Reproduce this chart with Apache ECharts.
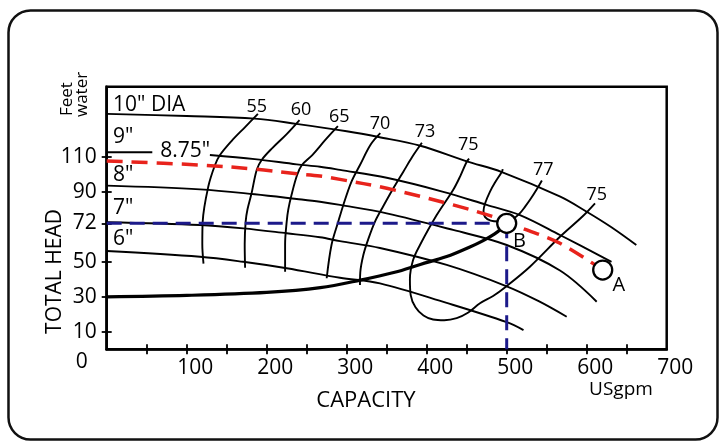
<!DOCTYPE html>
<html><head><meta charset="utf-8">
<script src="https://cdn.jsdelivr.net/npm/echarts@6/dist/echarts.min.js"></script>
<style>html,body{margin:0;padding:0;background:#fff}#c{width:723px;height:446px}</style>
</head><body><div id="c"></div>
<script>
// ---- axes ----
const xTicks = [50,100,150,200,250,300,350,400,450,500,550,600,650];
const xLabels = [100,200,300,400,500,600,700];
const yTicks = [10,30,50,72,90,110];
const yLabels = [10,30,50,72,90,110];
const zeroLabel = [0];

// ---- impeller curves (USgpm, feet) ----
const dia10 = [[0,134.5],[100,133.3],[185,131.8],[237,128.8],[300,124.6],[340,121.3],[392,116.3],[450,107.4],[494,101.3],[567,87.2],[600,78.6],[630,70],[662,59.6]];
const dia9a = [[0,112.6],[57,112.6]];
const dia9b = [[129,111],[185,108.7],[237.5,105.7],[266.6,104.3],[291.6,102.5],[350,98],[420.7,90],[475,82.5],[516.6,76.7],[566.6,65.3],[631,50]];
const dia8 = [[0,93.5],[116.6,91.4],[185,88.6],[237.5,85.9],[266.6,84.3],[291.6,82.5],[350,77.7],[433,68.2],[500,59.6],[566.6,45],[612.5,27.2]];
const dia7 = [[0,72.6],[116.6,71],[170.7,69.1],[225,66.3],[266.6,64],[291.6,61.8],[341.6,57.9],[425,48.2],[500,36],[540,27.5],[575,18.6]];
const dia6 = [[0,56.2],[116.6,52.9],[170.7,50],[225,46.3],[291.6,40.9],[341.6,37.7],[425,26.5],[500,15.5],[521,11]];

// ---- efficiency contours ----
const eff55 = [[189,134.5],[173,127],[156,119],[141.6,111],[135.4,105.3],[127,93],[120,73],[119.5,60],[121,49]];
const eff60 = [[241,131],[225,123],[207,115],[193.7,108.2],[187.5,102.5],[181,89],[176,80],[173.7,73],[172.5,60],[173,46.6]];
const eff65 = [[289,127.5],[273,119.5],[257,111],[244,105.3],[238,99.6],[231,88.2],[227,80],[225,73],[223,60],[223,44.3]];
const eff70 = [[342,123.5],[330,117],[316.6,105.3],[306,95.8],[295.8,82.5],[289.5,73],[281,59.6],[275,40.6]];
const eff73 = [[394,118],[382,110],[370.8,101.5],[358.3,92],[346,82],[335.4,73],[327,63],[320.8,53.9],[317,44],[316.6,36.7]];
const eff75 = [[453,109],[450,107.2],[442,99],[433,91],[412.5,76.7],[391.6,59.6],[383,51],[379,40],[380,31],[386,24],[396,19.3],[408,17],[422,16.6],[437.5,17.8],[452,21],[466.6,26.3],[483,30.5],[499,35.8],[529,47.2],[566.6,64.3],[595,76],[610.4,83.4]];
const eff77 = [[495,103],[494,101.5],[485,95],[479,90],[473.5,84],[471,79],[473,75.5],[480,73.5],[490,73],[500,73],[508,74.5],[516,77.5],[523,81.5],[530,86],[537,91],[544,96.5]];

// ---- system curve, operating curve, points ----
const systemCurve = [[0,30],[100,30.8],[200,32.5],[267,35.2],[317,39.5],[360,44],[392,48.5],[425,53],[454,58.5],[470,62],[485,66],[494,69.2],[500,72]];
const trimmed875 = [[0,107.6],[116.6,105.3],[185,103],[237.5,100.3],[266.6,99],[291.6,97.1],[350,92],[433,82.5],[483,75.8],[500,72.5],[525,68.2],[566.6,60.6],[620,45.3]];
const dutyH = [[0,72],[500,72]];
const dutyV = [[500,72],[500,0]];
const pointNames = ['B','A'];
const pointValues = [[500,72],[620,45.3]];
const pointLabelPos = [[516,62],[640,36.7]];

// ---- curve labels ----
const diaLabels = ['10" DIA','9"','8"','7"','6"'];
const diaLabelPos = [[8,139.7],[8,121.1],[8,99.6],[8,80.6],[8,63]];
const trimLabel = ['8.75"'];
const trimLabelPos = [[98,113.3]];
const effLabels = ['55','60','65','70','73','75','77','75'];
const effLabelPos = [[187.5,138.6],[243,136.7],[290.8,132.9],[341.6,129.1],[398,124.3],[452,116.7],[545.8,102.5],[612.5,88]];

const F = '"Open Sans", "Noto Sans", sans-serif';
const chart = echarts.init(document.getElementById('c'), null, {renderer:'canvas'});

function blk(data, w, z) {
  return {type:'line', data, showSymbol:false, symbol:'none', smooth:0.35, silent:true,
    lineStyle:{color:'#000', width:w||1.9}, z:z||2, animation:false};
}
function textSeries(texts, pos, size, align) {
  return {type:'custom', silent:true, z:8, animation:false, clip:false,
    data: pos.map(p=>[p[0], p[1]]),
    encode:{x:0, y:1},
    renderItem:(params, api)=>{
      const c = api.coord([api.value(0), api.value(1)]);
      return {type:'text', x:c[0], y:c[1],
        style:{text:texts[params.dataIndex], font:size+'px '+F, fill:'#000',
          align:align||'center', verticalAlign:'middle'}};
    }};
}

const series = [
  blk(dia10), blk(dia9a), blk(dia9b), blk(dia8), blk(dia7), blk(dia6),
  blk(eff55), blk(eff60), blk(eff65), blk(eff70), blk(eff73), blk(eff75), blk(eff77),
  blk(systemCurve, 3.2, 3),
  {type:'line', data:trimmed875, showSymbol:false, symbol:'none', smooth:0.35, silent:true, z:4, animation:false,
    lineStyle:{color:'#e8231c', width:3.5, type:[16,9]}},
  {type:'line', data:dutyH, showSymbol:false, symbol:'none', silent:true, z:4, animation:false,
    lineStyle:{color:'#1c1a8a', width:3, type:[15,8]}},
  {type:'line', data:dutyV, showSymbol:false, symbol:'none', silent:true, z:4, animation:false,
    lineStyle:{color:'#1c1a8a', width:3, type:[15,8]}},
  {type:'scatter', data:pointValues, symbol:'circle', symbolSize:19, silent:true, z:6, animation:false,
    itemStyle:{color:'#fff', borderColor:'#000', borderWidth:2.3, opacity:1}},
  textSeries(pointNames, pointLabelPos, 20),
  textSeries(diaLabels, diaLabelPos, 21, 'left'),
  textSeries(trimLabel, trimLabelPos, 21),
  textSeries(effLabels, effLabelPos, 18)
];

const tickStyle = {color:'#000', width:1.8};
chart.setOption({
  animation:false,
  grid:{left:106.7, right:56.3, top:86.8, bottom:96.7, show:true, borderColor:'#000', borderWidth:2.5, backgroundColor:'transparent'},
  xAxis:[
    {type:'value', min:0, max:700, position:'bottom',
      axisLine:{show:true, onZero:false, lineStyle:{color:'#000', width:2.5}},
      axisTick:{show:true, customValues:xTicks, length:5, lineStyle:tickStyle},
      axisLabel:{customValues:xLabels, margin:8, padding:[0,0,0,17], fontSize:21, fontFamily:F, color:'#000'},
      splitLine:{show:false}},
    {type:'value', min:0, max:700, position:'bottom',
      axisLine:{show:false, onZero:false},
      axisTick:{show:true, inside:true, customValues:xTicks, length:5, lineStyle:tickStyle},
      axisLabel:{show:true, customValues:zeroLabel, margin:2, padding:[0,50,0,0], fontSize:21, fontFamily:F, color:'#000'},
      splitLine:{show:false}}
  ],
  yAxis:[
    {type:'value', min:0, max:150, position:'left',
      axisLine:{show:true, onZero:false, lineStyle:{color:'#000', width:2.5}},
      axisTick:{show:true, customValues:yTicks, length:5, lineStyle:tickStyle},
      axisLabel:{customValues:yLabels, margin:10, fontSize:21, fontFamily:F, color:'#000'},
      splitLine:{show:false}},
    {type:'value', min:0, max:150, position:'left',
      axisLine:{show:false, onZero:false},
      axisTick:{show:true, inside:true, customValues:yTicks, length:5, lineStyle:tickStyle},
      axisLabel:{show:false}, splitLine:{show:false}}
  ],
  graphic:[
    {type:'rect', shape:{x:8.5, y:10.5, width:709, height:429, r:22}, style:{fill:'none', stroke:'#111', lineWidth:2.5}, z:-1},
    {type:'text', x:55, y:271.5, rotation:Math.PI/2, style:{text:'TOTAL HEAD', font:'21px '+F, fill:'#000', align:'center', verticalAlign:'middle'}},
    {type:'text', x:66.7, y:116, rotation:Math.PI/2, style:{text:'Feet', font:'17px '+F, fill:'#000', align:'left', verticalAlign:'middle'}},
    {type:'text', x:82.5, y:117, rotation:Math.PI/2, style:{text:'water', font:'17px '+F, fill:'#000', align:'left', verticalAlign:'middle'}},
    {type:'text', x:366, y:400.5, style:{text:'CAPACITY', font:'22px '+F, fill:'#000', align:'center', verticalAlign:'middle'}},
    {type:'text', x:621, y:390, style:{text:'USgpm', font:'19px '+F, fill:'#000', align:'center', verticalAlign:'middle'}}
  ],
  series
});
</script></body></html>
